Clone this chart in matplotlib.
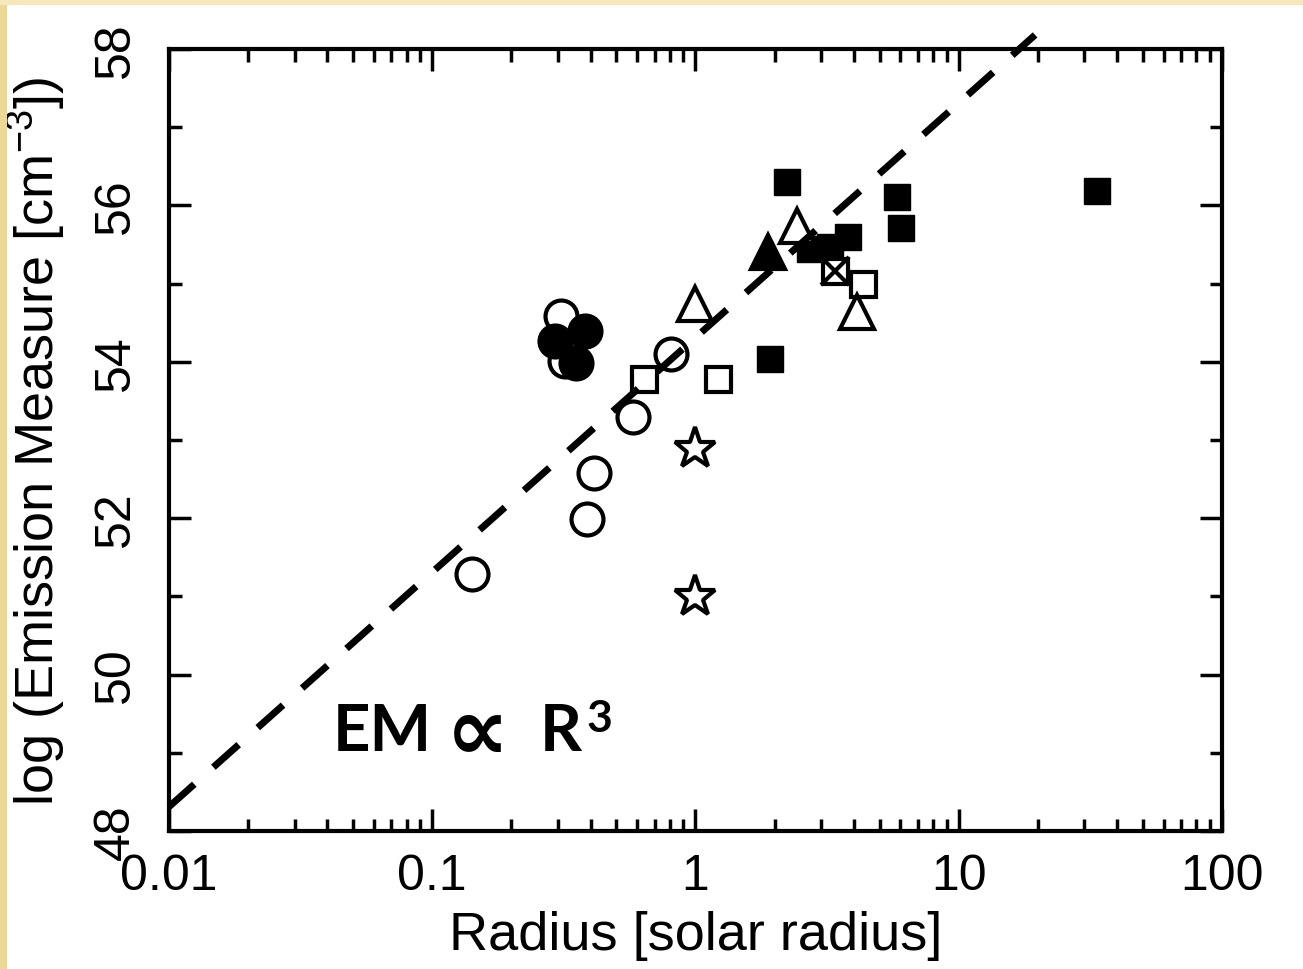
import matplotlib
matplotlib.use('Agg')
import matplotlib.pyplot as plt
from matplotlib.patches import Rectangle
from matplotlib.ticker import MultipleLocator, FixedLocator, LogLocator, NullFormatter
import numpy as np

plt.rcParams['font.family'] = ['Liberation Sans', 'DejaVu Sans']
plt.rcParams['mathtext.fontset'] = 'custom'
plt.rcParams['mathtext.rm'] = 'Liberation Sans'
plt.rcParams['mathtext.it'] = 'Liberation Sans:italic'

# data (radius in solar radii, log EM)
r_open_circ = [0.142, 0.387, 0.411, 0.579, 0.807, 0.308, 0.318]
em_open_circ = [51.29, 51.99, 52.58, 53.29, 54.10, 54.59, 54.01]
r_fill_circ = [0.292, 0.380, 0.351]
em_fill_circ = [54.27, 54.39, 53.98]
r_open_sq = [0.637, 1.218, 4.33]
em_open_sq = [53.78, 53.78, 54.99]
r_cross_sq = [3.39]
em_cross_sq = [55.16]
r_open_tri = [1.0, 2.43, 4.11]
em_open_tri = [54.74, 55.74, 54.64]
r_fill_tri = [1.885]
em_fill_tri = [55.40]
r_fill_sq = [2.23, 5.83, 6.04, 3.80, 2.72, 3.24, 1.92, 33.5]
em_fill_sq = [56.30, 56.11, 55.71, 55.60, 55.44, 55.47, 54.04, 56.18]
r_star = [1.0, 1.0]
em_star = [52.88, 50.99]

# EM ~ R^3 line
line_r = [0.01, 19.5]
line_em0 = 54.31  # value at R = 1

fig = plt.figure(figsize=(13.03, 9.70), dpi=100)
fig.patch.set_facecolor('white')
fig.patches.append(Rectangle((0, 0), 7 / 1303, 1, transform=fig.transFigure,
                             facecolor='#ecd898', edgecolor='none', zorder=0))
fig.patches.append(Rectangle((0, 1 - 6 / 970), 1, 6 / 970, transform=fig.transFigure,
                             facecolor='#f7e8bc', edgecolor='none', zorder=0))

ax = fig.add_axes([169 / 1303, 138 / 970, 1053 / 1303, 782 / 970])

ax.plot(r_open_circ, em_open_circ, 'o', ms=23, mfc='white', mec='black', mew=3, ls='none', zorder=3)
ax.plot(r_fill_circ, em_fill_circ, 'o', ms=23, mfc='black', mec='black', mew=3, ls='none', zorder=3)
ax.plot(r_open_sq, em_open_sq, 's', ms=18, mfc='white', mec='black', mew=3, ls='none', zorder=3)
ax.plot(r_fill_sq, em_fill_sq, 's', ms=19, mfc='black', mec='black', mew=1, ls='none', zorder=3)
ax.plot(r_cross_sq, em_cross_sq, 's', ms=18, mfc='white', mec='black', mew=3, ls='none', zorder=3)
ax.plot(r_cross_sq, em_cross_sq, 'x', ms=20, mec='black', mew=3, ls='none', zorder=3)
ax.plot(r_open_tri, em_open_tri, '^', ms=24, mfc='white', mec='black', mew=3, ls='none', zorder=3)
ax.plot(r_fill_tri, em_fill_tri, '^', ms=24, mfc='black', mec='black', mew=3, ls='none', zorder=3)
ax.plot(r_star, em_star, '*', ms=31, mfc='white', mec='black', mew=3, ls='none', zorder=3)

lr = np.array(line_r)
ax.plot(lr, line_em0 + 3 * np.log10(lr), color='black', lw=5,
        ls=(0, (4.88, 3.68)), clip_on=False, zorder=4)

# "EM ∝ R^3" label, built from pieces
ax.text(0.042, 49.035, 'EM', fontsize=47, fontweight='bold', family='Lato',
        ha='left', va='baseline', zorder=5)
ax.text(0.149, 49.36, '∝', fontsize=64, fontweight='bold', family='DejaVu Sans',
        ha='center', va='center_baseline', zorder=5)
ax.text(0.2565, 49.035, 'R', fontsize=47, fontweight='bold', family='Lato',
        ha='left', va='baseline', zorder=5)
ax.text(0.385, 49.70, '3', fontsize=32, fontweight='bold', family='Lato',
        ha='left', va='top', zorder=5)

ax.set_xscale('log')
ax.set_xlim(0.01, 100)
ax.set_ylim(48, 58)
ax.xaxis.set_major_locator(FixedLocator([0.01, 0.1, 1, 10, 100]))
ax.xaxis.set_minor_locator(LogLocator(base=10, subs=np.arange(2, 10)))
ax.xaxis.set_minor_formatter(NullFormatter())
ax.set_xticklabels(['0.01', '0.1', '1', '10', '100'])
ax.yaxis.set_major_locator(MultipleLocator(2))
ax.yaxis.set_minor_locator(MultipleLocator(1))

for s in ax.spines.values():
    s.set_linewidth(3)
ax.tick_params(which='both', direction='in', top=True, right=True, width=2.5)
ax.tick_params(which='major', length=16)
ax.tick_params(which='minor', length=9)
ax.tick_params(axis='x', labelsize=36, pad=16)
ax.tick_params(axis='y', labelsize=36, pad=22, labelrotation=90)
for lab in ax.get_yticklabels():
    lab.set_va('center')

ax.set_xlabel('Radius [solar radius]', fontsize=39, labelpad=8)
ax.set_ylabel('log (Emission Measure [cm$^{-3}$])', fontsize=39, labelpad=18)

fig.savefig('out.png', dpi=100)
